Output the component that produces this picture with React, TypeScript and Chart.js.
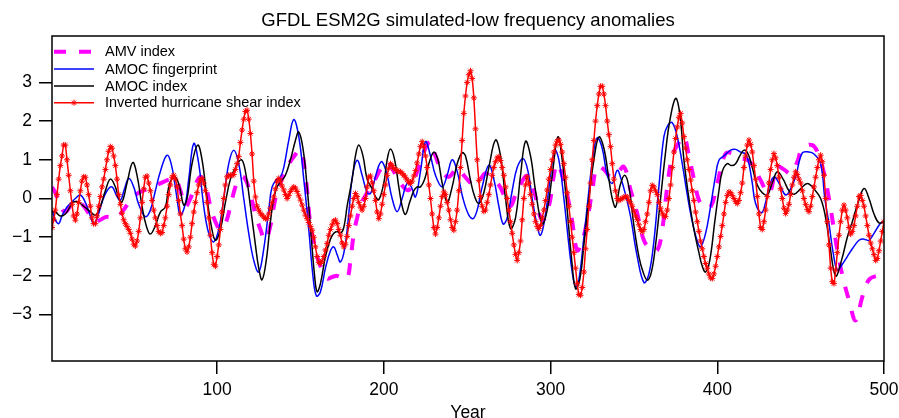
import { useEffect, useRef } from "react";
import { Chart, registerables } from "chart.js";

Chart.register(...registerables);

const chartTitle = "GFDL ESM2G simulated-low frequency anomalies";
const xAxisTitle = "Year";
const xTickValues = [100, 200, 300, 400, 500];
const yTickValues = [-3, -2, -1, 0, 1, 2, 3];
const seriesLabels = ["AMV index", "AMOC fingerprint", "AMOC index", "Inverted hurricane shear index"];

const amvYears = [1, 3, 6, 9, 12, 15, 18, 21, 24, 27, 30, 33, 36, 40, 43, 46, 50, 53, 57, 60, 64, 68, 72, 75, 78, 81, 84, 87, 90, 93, 96, 99, 102, 105, 108, 111, 114, 117, 120, 123, 126, 129, 132, 135, 138, 142, 146, 150, 153, 156, 158, 160, 163, 166, 169, 172, 175, 178, 180, 182, 184, 186, 190, 194, 198, 202, 206, 210, 215, 220, 224, 228, 231, 235, 239, 244, 248, 251, 254, 258, 261, 265, 269, 273, 276, 279, 283, 286, 290, 295, 299, 302, 304, 307, 310, 313, 316, 319, 322, 325, 328, 332, 336, 340, 344, 348, 352, 356, 360, 364, 367, 370, 373, 377, 380, 383, 386, 389, 392, 396, 400, 405, 410, 414, 418, 422, 426, 431, 436, 440, 444, 448, 451, 457, 461, 464, 467, 470, 472, 475, 479, 483, 487, 491, 496, 499];
const amvValues = [0.3, 0.15, -0.2, -0.35, -0.2, -0.1, -0.12, -0.25, -0.45, -0.6, -0.55, -0.48, -0.48, -0.5, -0.35, -0.17, 0.05, 0.15, 0.22, 0.26, 0.35, 0.43, 0.5, 0.52, 0.2, -0.2, 0.0, 0.35, 0.56, 0.35, -0.2, -0.6, -0.8, -0.65, -0.2, 0.3, 0.56, 0.5, 0.1, -0.4, -0.8, -1.08, -0.7, 0.0, 0.4, 0.8, 1.08, 1.25, 0.6, -0.7, -1.1, -1.5, -1.85, -2.07, -2.03, -2.0, -2.05, -2.07, -1.6, -0.9, -0.5, -0.17, 0.15, 0.43, 0.75, 0.95, 0.7, 0.39, 0.22, 0.69, 1.2, 1.47, 1.1, 0.7, 0.56, 0.78, 0.6, 0.45, 0.34, 0.5, 0.65, 0.5, 0.35, 0.0, -0.2, 0.1, 0.45, 0.58, 0.2, -0.56, -0.2, 0.6, 0.9, 0.6, 0.1, -0.6, -1.34, -1.1, -0.56, 0.2, 0.82, 0.75, 0.56, 0.65, 0.82, 0.22, -0.39, -1.08, -1.3, -1.34, -0.8, 0.3, 1.08, 1.45, 1.6, 1.1, 0.5, -0.04, -0.2, -0.22, 0.39, 1.16, 1.15, 1.03, 1.0, 0.8, 0.47, 0.13, 0.82, 0.75, 0.65, 0.95, 1.29, 1.38, 1.1, 0.65, 0.0, -0.8, -1.34, -1.98, -2.63, -3.15, -2.54, -2.1, -2.0, -2.0];

const fingerprintYears = [1, 3, 5, 7, 10, 13, 15, 18, 21, 24, 26, 28.5, 31, 34, 37, 40, 42, 44.5, 47, 50, 53, 57, 60, 63, 66, 70, 73, 76, 78, 81, 83, 86, 89, 92, 95, 98, 101, 104, 107, 110, 113, 116, 119, 122, 125, 128, 131, 133, 136, 138, 140, 143, 146, 149, 152, 155, 157.5, 159.6, 162, 165, 168, 170, 172, 174, 176.5, 179, 181, 184, 187, 190, 192, 194, 197, 199, 202, 205, 208, 211, 214, 216.5, 219, 222, 225, 228, 231, 235, 238, 241, 244, 247.5, 251, 253.6, 256, 259, 263, 266, 269, 271.6, 274, 277, 280, 283.6, 286.5, 289, 291.5, 294, 297, 300, 302.6, 305, 308, 311, 313, 315, 317, 320, 323, 325.5, 328, 331, 334, 337, 340, 342, 345, 348, 352, 356, 359, 362, 365, 368, 370.5, 373, 376, 379, 382, 385, 388, 390, 393, 396, 399, 401, 404, 408, 411, 414, 417, 419, 421, 423, 426.6, 429, 431, 434, 437, 441, 444, 447, 451, 455, 458, 462, 464.5, 467, 469.5, 472, 475, 478, 481, 485, 488, 491, 494, 497, 499];
const fingerprintValues = [-0.3, -0.55, -0.65, -0.45, -0.22, -0.09, 0.0, 0.09, -0.1, -0.45, -0.65, -0.45, -0.1, 0.2, 0.3, 0.05, -0.05, 0.25, 0.52, 0.3, -0.15, -0.47, -0.3, 0.2, 0.7, 1.12, 0.8, 0.0, -0.43, -0.13, 0.5, 1.42, 0.9, -0.2, -0.9, -1.12, -0.8, 0.0, 0.9, 1.25, 0.9, 0.0, -0.9, -1.6, -1.9, -1.3, -0.3, 0.3, 0.5, 0.56, 0.8, 1.5, 2.04, 1.6, 0.5, -0.8, -2.0, -2.52, -2.41, -1.8, -1.35, -1.25, -1.45, -1.64, -1.3, -0.4, 0.52, 0.99, 0.6, 0.15, 0.13, 0.4, 0.85, 0.95, 0.6, 0.0, -0.34, 0.0, 0.39, 0.3, 0.04, 0.7, 1.47, 1.1, 0.6, 0.3, 0.6, 1.0, 0.7, 0.0, -0.43, -0.52, -0.3, 0.3, 0.86, 0.5, -0.2, -0.66, -0.5, 0.2, 0.8, 1.03, 0.7, 0.0, -0.6, -0.95, -0.4, 0.6, 1.25, 1.0, 0.0, -1.2, -1.9, -2.28, -2.1, -1.0, 0.2, 1.1, 1.57, 1.3, 0.6, 0.39, 0.73, 0.55, 0.1, -0.47, -1.5, -2.17, -1.95, -1.1, 0.3, 1.6, 1.9, 1.96, 1.6, 0.9, 0.1, -0.6, -1.1, -1.25, -0.9, -0.2, 0.6, 0.99, 1.1, 1.25, 1.27, 1.2, 1.15, 0.9, 0.4, -0.13, -0.37, -0.1, 0.3, 0.56, 0.4, 0.09, 0.25, 0.56, 1.18, 1.2, 1.15, 0.9, 0.0, -0.65, -1.4, -1.85, -1.7, -1.5, -1.3, -1.08, -1.05, -1.08, -0.9, -0.69, -0.6];

const amocYears = [1, 3, 6, 9, 12, 14, 17, 20, 24, 27, 30, 33, 36, 39, 41, 43, 46, 49.4, 52, 55, 57.5, 60, 63, 66, 69, 71, 73, 75, 77.5, 80, 82, 85, 88.4, 91, 94, 96.5, 99, 102, 105, 108, 111, 114.6, 117, 120, 123, 125, 127, 129.5, 132, 134, 136, 138.5, 141, 144, 147, 149, 151.5, 154, 156.5, 158.5, 160, 162, 165, 168, 170, 172, 174, 176, 178, 181, 183, 185, 187.5, 190, 193, 195, 197, 200, 202, 204, 206.5, 209, 211, 213, 215.5, 218, 220, 222, 224.5, 227, 230, 232.5, 235, 238, 241, 244, 247, 249, 252, 254.5, 257, 260, 263, 267, 270, 273, 276, 279, 282, 285, 288, 291, 295, 298, 301, 304.4, 307, 310, 312.5, 315, 317.5, 320, 323, 326, 329, 332, 335, 337, 339, 341.5, 344.4, 347, 350, 353, 355.5, 358, 360.5, 363, 366, 369, 371.5, 375, 377.5, 380, 383, 386, 389, 391, 393, 395.5, 398.5, 401, 403, 406, 408.5, 411, 413.5, 416, 418.5, 421, 424, 427, 430, 433, 436, 439.5, 443, 446, 450, 454, 458, 462, 465, 467.5, 471, 474.5, 478, 481, 484.5, 488, 491, 494, 497, 500];
const amocValues = [-0.35, -0.35, -0.45, -0.4, -0.2, -0.09, -0.1, -0.2, -0.34, -0.43, -0.2, 0.2, 0.5, 0.3, 0.0, -0.09, 0.4, 0.93, 0.6, -0.2, -0.7, -0.92, -0.7, -0.35, -0.22, 0.3, 0.52, 0.56, 0.3, -0.17, 0.0, 0.9, 1.38, 1.0, 0.0, -0.7, -1.08, -0.8, -0.1, 0.5, 0.8, 1.0, 0.7, -0.2, -1.2, -1.8, -2.1, -1.6, -0.6, 0.0, 0.3, 0.45, 0.6, 1.0, 1.5, 1.72, 1.3, 0.3, -1.0, -2.0, -2.41, -2.2, -1.5, -1.05, -0.9, -0.85, -0.9, -0.75, -0.2, 0.5, 1.1, 1.38, 1.1, 0.5, 0.25, 0.05, -0.03, 0.4, 1.0, 1.28, 1.0, 0.3, -0.2, -0.41, -0.1, 0.2, 0.3, 0.3, 0.5, 0.9, 1.2, 1.0, 0.4, -0.09, 0.3, 0.9, 1.18, 1.1, 0.47, 0.05, -0.13, 0.15, 0.8, 1.51, 1.1, 0.0, -0.78, -0.5, 0.6, 1.48, 1.1, 0.2, -0.65, -0.3, 0.6, 1.59, 1.0, -0.3, -1.5, -2.33, -2.1, -1.2, 0.0, 1.0, 1.59, 1.3, 0.5, 0.0, -0.22, 0.3, 0.6, 0.3, -0.7, -1.5, -1.9, -2.11, -1.9, -1.2, 0.0, 1.2, 2.0, 2.59, 2.2, 1.0, 0.0, -0.8, -1.4, -1.75, -1.9, -1.6, -0.6, 0.2, 0.7, 0.9, 0.85, 0.9, 1.1, 1.25, 1.15, 0.8, 0.35, 0.15, 0.09, 0.4, 0.69, 0.5, 0.2, 0.11, 0.25, 0.39, 0.25, 0.0, -0.5, -1.2, -2.0, -1.6, -1.0, -0.6, -0.1, 0.26, 0.0, -0.4, -0.63, -0.6];

// Inverted hurricane shear index, one value per year (years 1..500)
const shearValues = [
  -0.75, -0.55, -0.3, 0.1, 0.5, 0.85, 1.1, 1.38, 1.38, 1.0,
  0.6, 0.2, -0.15, -0.45, -0.56, -0.4, -0.1, 0.2, 0.45, 0.56,
  0.55, 0.35, 0.1, -0.2, -0.5, -0.65, -0.65, -0.45, -0.2, 0.05,
  0.3, 0.5, 0.75, 1.0, 1.22, 1.34, 1.3, 1.1, 0.85, 0.5,
  0.1, -0.15, -0.38, -0.55, -0.65, -0.72, -0.8, -0.9, -1.05, -1.18,
  -1.23, -1.1, -0.85, -0.5, -0.1, 0.25, 0.55, 0.58, 0.4, 0.2,
  -0.05, -0.3, -0.5, -0.7, -0.85, -0.9, -0.88, -0.7, -0.5, -0.2,
  0.1, 0.35, 0.55, 0.6, 0.5, 0.3, -0.05, -0.4, -0.7, -1.05,
  -1.3, -1.38, -1.25, -1.0, -0.65, -0.35, -0.1, 0.15, 0.35, 0.48,
  0.52, 0.4, 0.2, -0.1, -0.5, -0.95, -1.4, -1.7, -1.75, -1.5,
  -1.2, -0.8, -0.35, 0.0, 0.35, 0.56, 0.6, 0.6, 0.6, 0.62,
  0.75, 0.9, 1.08, 1.45, 1.77, 2.05, 2.25, 2.28, 2.05, 1.68,
  1.15, 0.45, 0.04, -0.2, -0.3, -0.38, -0.43, -0.48, -0.52, -0.52,
  -0.4, -0.25, -0.1, 0.04, 0.25, 0.45, 0.52, 0.45, 0.32, 0.22,
  0.1, 0.0, 0.08, 0.18, 0.25, 0.3, 0.27, 0.18, 0.07, -0.04,
  -0.17, -0.3, -0.43, -0.52, -0.62, -0.72, -0.82, -1.0, -1.25, -1.5,
  -1.65, -1.68, -1.62, -1.5, -1.33, -1.16, -0.95, -0.8, -0.68, -0.58,
  -0.56, -0.65, -0.8, -0.95, -1.15, -1.25, -1.18, -0.98, -0.7, -0.45,
  -0.2, 0.0, 0.13, 0.05, -0.1, -0.22, -0.3, -0.2, 0.0, 0.3,
  0.55, 0.58, 0.4, 0.2, -0.05, -0.35, -0.52, -0.4, -0.15, 0.1,
  0.35, 0.6, 0.78, 0.9, 0.85, 0.78, 0.75, 0.72, 0.7, 0.69,
  0.65, 0.6, 0.55, 0.48, 0.42, 0.39, 0.45, 0.58, 0.72, 0.92,
  1.15, 1.35, 1.47, 1.35, 1.1, 0.8, 0.35, 0.0, -0.4, -0.75,
  -0.92, -0.75, -0.5, -0.2, 0.05, 0.17, 0.1, -0.1, -0.3, -0.55,
  -0.75, -0.82, -0.6, -0.3, 0.2, 0.8, 1.5, 2.2, 2.65, 3.0,
  3.2, 3.3, 3.1, 2.6, 1.8, 1.0, 0.47, 0.05, -0.2, -0.33,
  -0.3, -0.1, 0.1, 0.35, 0.6, 0.8, 0.95, 1.05, 1.08, 0.98,
  0.8, 0.6, 0.3, 0.0, -0.3, -0.6, -0.9, -1.2, -1.45, -1.6,
  -1.4, -1.1, -0.55, 0.0, 0.35, 0.56, 0.4, 0.1, -0.15, -0.4,
  -0.6, -0.72, -0.78, -0.7, -0.5, -0.3, -0.05, 0.22, 0.5, 0.75,
  1.0, 1.2, 1.38, 1.48, 1.51, 1.4, 1.2, 0.9, 0.55, 0.15,
  -0.2, -0.6, -1.0, -1.4, -1.8, -2.2, -2.48, -2.5, -2.3, -1.9,
  -1.3, -0.8, -0.2, 0.4, 1.0, 1.5, 2.0, 2.4, 2.7, 2.9,
  2.9, 2.7, 2.4, 2.0, 1.65, 1.34, 0.9, 0.5, 0.2, 0.0,
  -0.05, -0.02, 0.0, 0.03, 0.05, 0.04, -0.05, -0.12, -0.2, -0.32,
  -0.45, -0.55, -0.68, -0.8, -0.86, -0.8, -0.6, -0.4, -0.1, 0.2,
  0.34, 0.3, 0.2, 0.1, -0.1, -0.25, -0.38, -0.45, -0.47, -0.3,
  0.0, 0.35, 0.8, 1.2, 1.55, 1.85, 2.1, 2.2, 1.95, 1.6,
  1.3, 1.0, 0.75, 0.48, 0.2, -0.05, -0.35, -0.6, -0.85, -1.1,
  -1.3, -1.5, -1.68, -1.8, -1.95, -2.05, -2.07, -1.95, -1.75, -1.5,
  -1.25, -0.98, -0.7, -0.4, -0.1, 0.08, 0.17, 0.15, 0.08, 0.0,
  -0.08, -0.13, -0.05, 0.15, 0.4, 0.8, 1.1, 1.38, 1.51, 1.4,
  1.2, 0.85, 0.5, 0.05, -0.4, -0.75, -0.8, -0.6, -0.3, 0.05,
  0.4, 0.75, 1.0, 1.16, 1.05, 0.85, 0.55, 0.25, 0.0, -0.25,
  -0.39, -0.3, -0.15, 0.1, 0.35, 0.55, 0.69, 0.62, 0.5, 0.4,
  0.2, 0.0, -0.15, -0.28, -0.34, -0.2, 0.05, 0.3, 0.55, 0.8,
  1.0, 1.12, 0.95, 0.6, 0.0, -0.6, -1.2, -1.8, -2.15, -2.2,
  -1.85, -1.4, -0.95, -0.6, -0.3, -0.17, -0.3, -0.5, -0.75, -0.92,
  -0.85, -0.7, -0.45, -0.2, 0.05, 0.08, -0.05, -0.2, -0.45, -0.7,
  -0.95, -1.15, -1.3, -1.45, -1.6, -1.55, -1.35, -1.1, -0.85, -0.6,
];
const shearYears = shearValues.map((_, i) => i + 1);

const FONT = "'Liberation Sans', Arial, Helvetica, sans-serif";

function toPoints(xs: number[], ys: number[]) {
  return xs.map((x, i) => ({ x, y: ys[i] }));
}

function drawStar(ctx: CanvasRenderingContext2D, x: number, y: number, r: number) {
  ctx.beginPath();
  for (let k = 0; k < 4; k++) {
    const ang = (k * Math.PI) / 4;
    const dx = Math.cos(ang) * r;
    const dy = Math.sin(ang) * r;
    ctx.moveTo(x - dx, y - dy);
    ctx.lineTo(x + dx, y + dy);
  }
  ctx.stroke();
}

const decorPlugin = {
  id: "decor",
  afterDraw(chart: any) {
    const { ctx, chartArea: a } = chart;
    ctx.save();
    ctx.strokeStyle = "#000";
    ctx.lineWidth = 1.5;
    ctx.setLineDash([]);
    ctx.strokeRect(a.left, a.top, a.right - a.left, a.bottom - a.top);

    ctx.fillStyle = "#000";
    ctx.textAlign = "center";
    ctx.textBaseline = "alphabetic";
    ctx.font = `18.5px ${FONT}`;
    ctx.fillText(chartTitle, (a.left + a.right) / 2, 26);
    ctx.font = `17.5px ${FONT}`;
    ctx.fillText(xAxisTitle, (a.left + a.right) / 2, 417.5);

    // legend
    const rowYs = [15.7, 33, 50, 66.7];
    const x0 = a.left + 2;
    const x1 = a.left + 42;
    ctx.font = `14.5px ${FONT}`;
    ctx.textAlign = "left";
    ctx.textBaseline = "middle";
    chart.data.datasets.forEach((ds: any, i: number) => {
      const y = a.top + rowYs[i];
      ctx.save();
      ctx.strokeStyle = ds.borderColor;
      ctx.lineWidth = ds.borderWidth;
      ctx.setLineDash(ds.borderDash || []);
      ctx.lineCap = "butt";
      ctx.beginPath();
      ctx.moveTo(x0, y);
      ctx.lineTo(x1, y);
      ctx.stroke();
      if (ds.pointRadius > 0) {
        ctx.setLineDash([]);
        ctx.lineWidth = ds.pointBorderWidth;
        ctx.strokeStyle = ds.pointBorderColor;
        drawStar(ctx, (x0 + x1) / 2, y, ds.pointRadius);
      }
      ctx.restore();
      ctx.fillStyle = "#000";
      ctx.fillText(seriesLabels[i], a.left + 53, y + 0.5);
    });
    ctx.restore();
  },
};

export default function App() {
  const canvasRef = useRef<HTMLCanvasElement | null>(null);

  useEffect(() => {
    const canvas = canvasRef.current;
    if (!canvas) return;
    Chart.defaults.font.family = FONT;
    const chart = new Chart(canvas, {
      type: "line",
      data: {
        datasets: [
          {
            label: seriesLabels[0],
            data: toPoints(amvYears, amvValues),
            borderColor: "#ff00ff",
            borderWidth: 4,
            borderDash: [12, 13],
            borderCapStyle: "butt",
            pointRadius: 0,
            tension: 0.4,
            fill: false,
            order: 4,
          },
          {
            label: seriesLabels[1],
            data: toPoints(fingerprintYears, fingerprintValues),
            borderColor: "#0000ff",
            borderWidth: 1.5,
            pointRadius: 0,
            tension: 0.4,
            fill: false,
            order: 3,
          },
          {
            label: seriesLabels[2],
            data: toPoints(amocYears, amocValues),
            borderColor: "#000000",
            borderWidth: 1.5,
            pointRadius: 0,
            tension: 0.4,
            fill: false,
            order: 2,
          },
          {
            label: seriesLabels[3],
            data: toPoints(shearYears, shearValues),
            borderColor: "#ff0000",
            borderWidth: 1.5,
            pointRadius: 3,
            pointStyle: "star",
            pointBorderColor: "#ff0000",
            pointBackgroundColor: "#ff0000",
            pointBorderWidth: 1,
            tension: 0.2,
            fill: false,
            order: 1,
          },
        ] as any,
      },
      options: {
        animation: false,
        responsive: false,
        devicePixelRatio: 1,
        events: [],
        layout: { padding: { top: 36, right: 15, left: 0, bottom: 0 } },
        plugins: {
          legend: { display: false },
          title: { display: false },
          tooltip: { enabled: false },
        },
        scales: {
          x: {
            type: "linear",
            min: 1,
            max: 500,
            afterBuildTicks: (s: any) => {
              s.ticks = xTickValues.map((v) => ({ value: v }));
            },
            afterFit: (s: any) => {
              s.height = 57;
              s.paddingLeft = 0;
              s.paddingRight = 0;
            },
            ticks: {
              autoSkip: false,
              maxRotation: 0,
              padding: 6,
              color: "#000",
              font: { size: 17.5, family: FONT },
              callback: (v: any) => String(v),
            },
            grid: {
              drawOnChartArea: false,
              drawTicks: true,
              tickLength: 13,
              color: "#000",
              lineWidth: 1.5,
            },
            border: { display: false },
          },
          y: {
            type: "linear",
            min: -4.2,
            max: 4.2,
            afterBuildTicks: (s: any) => {
              s.ticks = yTickValues.map((v) => ({ value: v }));
            },
            afterFit: (s: any) => {
              s.width = 52;
              s.paddingTop = 0;
              s.paddingBottom = 0;
            },
            ticks: {
              autoSkip: false,
              padding: 7,
              color: "#000",
              font: { size: 17.5, family: FONT },
              callback: (v: any) => (v < 0 ? "\u2212" + Math.abs(v) : String(v)),
            },
            grid: {
              drawOnChartArea: false,
              drawTicks: true,
              tickLength: 13,
              color: "#000",
              lineWidth: 1.5,
            },
            border: { display: false },
          },
        },
      } as any,
      plugins: [decorPlugin],
    });
    return () => chart.destroy();
  }, []);

  return (
    <div style={{ position: "fixed", left: 0, top: 0, width: 899, height: 418, background: "#fff" }}>
      <canvas ref={canvasRef} width={899} height={418} style={{ width: 899, height: 418, display: "block" }} />
    </div>
  );
}
